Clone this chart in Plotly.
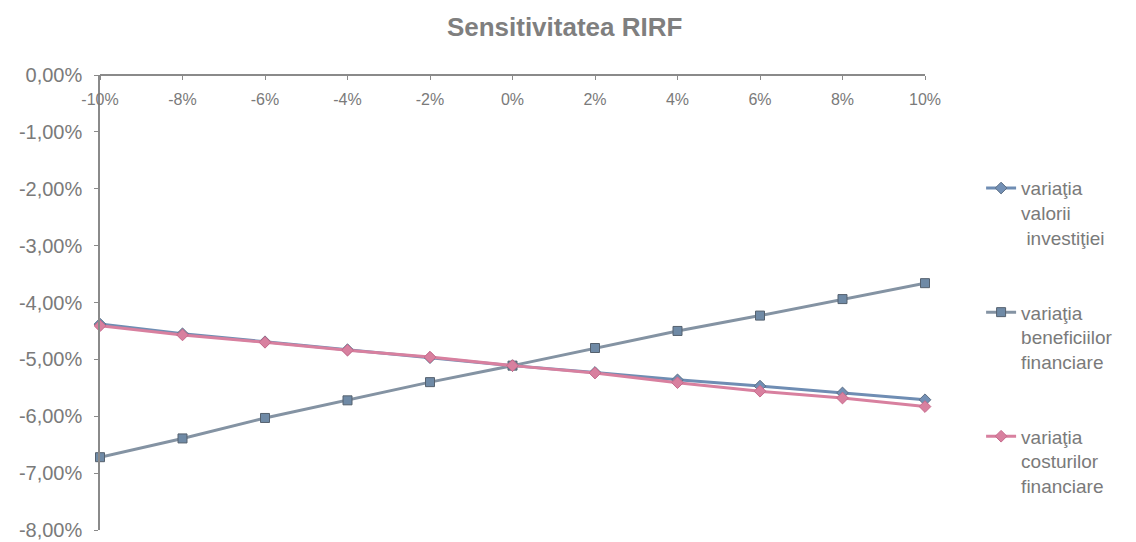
import plotly.graph_objects as go

categories = ["-10%", "-8%", "-6%", "-4%", "-2%", "0%", "2%", "4%", "6%", "8%", "10%"]
investitie = [-4.38, -4.55, -4.69, -4.83, -4.97, -5.11, -5.23, -5.36, -5.47, -5.59, -5.71]
beneficii = [-6.72, -6.39, -6.03, -5.72, -5.40, -5.11, -4.80, -4.50, -4.23, -3.94, -3.66]
costuri = [-4.41, -4.57, -4.70, -4.84, -4.96, -5.11, -5.24, -5.41, -5.56, -5.68, -5.83]

names = ["variaţia<br>valorii<br> investiţiei",
         "variaţia<br>beneficiilor<br>financiare",
         "variaţia<br>costurilor<br>financiare"]

y_ticks = [0, -1, -2, -3, -4, -5, -6, -7, -8]
y_labels = ["0,00%", "-1,00%", "-2,00%", "-3,00%", "-4,00%", "-5,00%", "-6,00%", "-7,00%", "-8,00%"]

fig = go.Figure()
fig.add_trace(go.Scatter(
    x=categories, y=investitie, name=names[0], mode="lines+markers",
    line=dict(color="#6f8db3", width=3),
    marker=dict(symbol="diamond", size=9, color="#7390b5", line=dict(color="#5d6f85", width=1)),
    legendgroup="a", cliponaxis=False))
fig.add_trace(go.Scatter(
    x=categories, y=beneficii, name=names[1], mode="lines+markers",
    line=dict(color="#8493a3", width=3),
    marker=dict(symbol="square", size=9, color="#6f8aa6", line=dict(color="#55616e", width=1)),
    legendgroup="b", cliponaxis=False))
fig.add_trace(go.Scatter(
    x=categories, y=costuri, name=names[2], mode="lines+markers",
    line=dict(color="#d8809f", width=3),
    marker=dict(symbol="diamond", size=9, color="#d8809f", line=dict(color="#c76a8c", width=1)),
    legendgroup="c", cliponaxis=False))

fig.update_layout(
    width=1136, height=542,
    margin=dict(l=92, r=219, t=67, b=20),
    paper_bgcolor="white", plot_bgcolor="white",
    title=dict(text="<b>Sensitivitatea RIRF</b>", x=0.490, xanchor="center", y=0.965, yanchor="middle",
               font=dict(family="Liberation Sans, Arial", size=26, color="#7f7f7f")),
    font=dict(family="Liberation Sans, Arial", color="#7a7a7a"),
    showlegend=True,
    legend=dict(x=1.068, xanchor="left", y=0.793, yanchor="top", valign="top",
                tracegroupgap=47, font=dict(size=19, color="#7a7a7a"),
                bgcolor="rgba(0,0,0,0)"),
    xaxis=dict(type="category", range=[0, 10], side="bottom", anchor="free", position=1,
               showline=True, linecolor="#8a8a8a",
               linewidth=1.5, ticks="outside", ticklen=4, tickcolor="#8a8a8a",
               ticklabelstandoff=6,
               showgrid=False, zeroline=False, automargin=False,
               tickfont=dict(size=16, color="#7a7a7a")),
    yaxis=dict(range=[-8, 0], tickvals=y_ticks, ticktext=y_labels, showline=True,
               linecolor="#8a8a8a", linewidth=1.5, ticks="outside", ticklen=4,
               ticklabelstandoff=8,
               tickcolor="#8a8a8a", showgrid=False, zeroline=False, automargin=False,
               tickfont=dict(size=20, color="#7a7a7a")),
)

fig.write_html("out.html")
